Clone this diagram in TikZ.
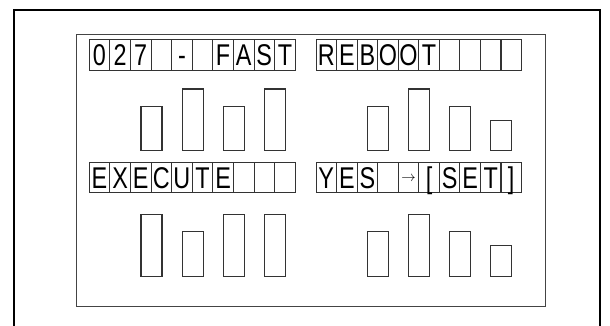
\documentclass[tikz,border=0pt]{standalone}
\usepackage{fontspec}
\usepackage{tikz}
\newfontfamily\lcdfont[FakeStretch=0.78]{Liberation Sans}
\definecolor{lcdline}{HTML}{333333}
\definecolor{lcdframe}{HTML}{444444}
\tikzset{
  cell/.style={rectangle,draw=lcdline,line width=0.9pt,inner sep=0pt,minimum width=20.6pt,minimum height=30.6pt,text height=21.5pt,text depth=0pt,font=\lcdfont\fontsize{30}{30}\selectfont},
  bar/.style={rectangle,draw=lcdline,line width=1.1pt,inner sep=0pt,minimum width=21pt,anchor=south},
  screen/.style={draw=lcdframe,line width=0.9pt},
  panel/.style={draw=black,line width=2pt}
}

\begin{document}
\begin{tikzpicture}[x=1pt,y=-1pt]
\useasboundingbox (0,0) rectangle (610,326);
% frames
\draw[panel] (14,326) -- (14,10) -- (600,10) -- (600,326);
\draw[screen] (76.7,34) rectangle (545,306);
% first line
\foreach \ch [count=\i] in {0,2,7,{},-,{},F,A,S,T}
  \node[cell] (t\i) at ({89.2+20.6*(\i-0.5)},54.7) {\ch};
\foreach \ch [count=\i] in {R,E,B,O,O,T,{},{},{},{}}
  \node[cell] (u\i) at ({316+20.55*(\i-0.5)},54.7) {\ch};
% second line
\foreach \ch [count=\i] in {E,X,E,C,U,T,E,{},{},{}}
  \node[cell] (e\i) at ({89.2+20.6*(\i-0.5)},177.5) {\ch};
\foreach \ch [count=\i] in {Y,E,S,{},{\fontsize{15}{15}\selectfont\raisebox{7pt}{$\rightarrow$}},[,S,E,T,]}
  \node[cell] (y\i) at ({316+20.55*(\i-0.5)},177.5) {\ch};
% bars under first line
\node[bar,minimum height=44pt] (pa1) at ([yshift=-80.5pt]t3.south east) {};
\node[bar,minimum height=61.4pt] (pa2) at ([yshift=-80.5pt]t5.south east) {};
\node[bar,minimum height=44pt] (pa3) at ([yshift=-80.5pt]t7.south east) {};
\node[bar,minimum height=61.4pt] (pa4) at ([yshift=-80.5pt]t9.south east) {};
\node[bar,minimum height=44pt] (pb1) at ([yshift=-80.5pt]u3.south east) {};
\node[bar,minimum height=61.4pt] (pb2) at ([yshift=-80.5pt]u5.south east) {};
\node[bar,minimum height=44pt] (pb3) at ([yshift=-80.5pt]u7.south east) {};
\node[bar,minimum height=30pt] (pb4) at ([yshift=-80.5pt]u9.south east) {};
% bars under second line
\node[bar,minimum height=61.7pt] (qa1) at ([yshift=-83.5pt]e3.south east) {};
\node[bar,minimum height=44.3pt] (qa2) at ([yshift=-83.5pt]e5.south east) {};
\node[bar,minimum height=61.7pt] (qa3) at ([yshift=-83.5pt]e7.south east) {};
\node[bar,minimum height=61.7pt] (qa4) at ([yshift=-83.5pt]e9.south east) {};
\node[bar,minimum height=44.3pt] (qb1) at ([yshift=-83.5pt]y3.south east) {};
\node[bar,minimum height=61.7pt] (qb2) at ([yshift=-83.5pt]y5.south east) {};
\node[bar,minimum height=44.3pt] (qb3) at ([yshift=-83.5pt]y7.south east) {};
\node[bar,minimum height=30.3pt] (qb4) at ([yshift=-83.5pt]y9.south east) {};
\end{tikzpicture}
\end{document}
